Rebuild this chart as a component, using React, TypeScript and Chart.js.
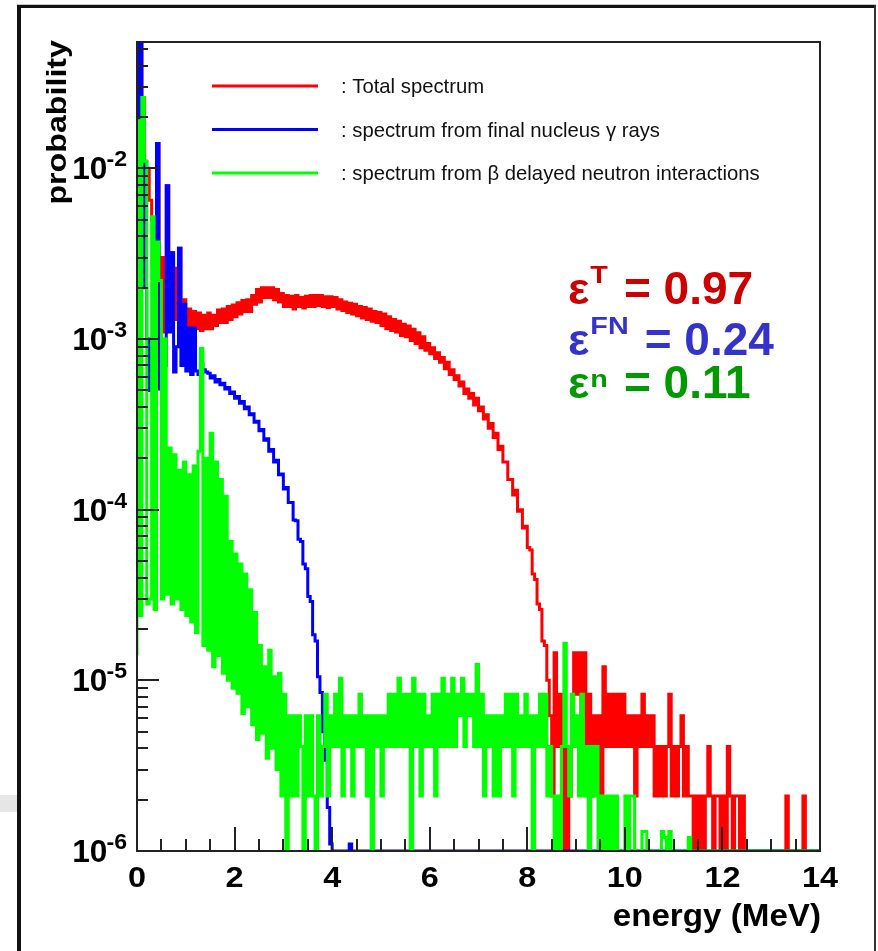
import React, { useEffect, useRef } from "react";
import { Chart, registerables } from "chart.js";

Chart.register(...registerables);

// ---------------- data ----------------
const BIN_WIDTH = 0.05; // MeV per histogram bin
const X_MIN = 0;
const X_MAX = 14;
const Y_MIN = 1e-6;
const Y_MAX = 0.055;

// Total spectrum (red), one value per 0.05 MeV bin starting at 0 MeV
const totalSpectrum: number[] = [
  3.8e-5, 1.9e-2, 8e-2, 2.6e-2, 1.1e-2, 1.0e-2, 6.5e-3, 5.0e-3, 3.9e-3, 1.4e-2,
  3.0e-3, 1.1e-3, 3.0e-3, 7.9e-3, 1.2e-3, 3.2e-3, 1.3e-3, 2.6e-3, 3.4e-3, 1.3e-3,
  1.7e-3, 1.2e-3, 1.5e-3, 1.15e-3, 1.45e-3, 1.15e-3, 1.42e-3, 1.12e-3, 1.38e-3, 1.15e-3,
  1.42e-3, 1.15e-3, 1.38e-3, 1.2e-3, 1.48e-3, 1.25e-3, 1.5e-3, 1.25e-3, 1.55e-3, 1.3e-3,
  1.58e-3, 1.35e-3, 1.63e-3, 1.4e-3, 1.68e-3, 1.45e-3, 1.7e-3, 1.45e-3, 1.8e-3, 1.6e-3,
  1.95e-3, 1.65e-3, 2.0e-3, 1.75e-3, 2.0e-3, 1.75e-3, 2.0e-3, 1.7e-3, 1.95e-3, 1.65e-3,
  1.85e-3, 1.55e-3, 1.8e-3, 1.55e-3, 1.78e-3, 1.5e-3, 1.8e-3, 1.55e-3, 1.75e-3, 1.52e-3,
  1.78e-3, 1.55e-3, 1.8e-3, 1.55e-3, 1.8e-3, 1.57e-3, 1.8e-3, 1.55e-3, 1.77e-3, 1.53e-3,
  1.77e-3, 1.55e-3, 1.75e-3, 1.5e-3, 1.7e-3, 1.47e-3, 1.65e-3, 1.43e-3, 1.62e-3, 1.4e-3,
  1.6e-3, 1.37e-3, 1.55e-3, 1.33e-3, 1.53e-3, 1.3e-3, 1.5e-3, 1.27e-3, 1.45e-3, 1.25e-3,
  1.43e-3, 1.2e-3, 1.4e-3, 1.15e-3, 1.35e-3, 1.12e-3, 1.3e-3, 1.1e-3, 1.27e-3, 1.05e-3,
  1.22e-3, 1.03e-3, 1.19e-3, 9.8e-4, 1.14e-3, 9.4e-4, 1.09e-3, 8.9e-4, 1.03e-3, 8.6e-4,
  9.4e-4, 8.2e-4, 8.9e-4, 7.7e-4, 8.3e-4, 7.3e-4, 7.8e-4, 6.7e-4, 7.3e-4, 6.2e-4,
  6.6e-4, 5.8e-4, 6.1e-4, 5.3e-4, 5.6e-4, 4.8e-4, 5.1e-4, 4.5e-4, 4.8e-4, 4.1e-4,
  4.5e-4, 3.8e-4, 4.0e-4, 3.4e-4, 3.6e-4, 3.0e-4, 3.2e-4, 2.65e-4, 2.8e-4, 2.25e-4,
  2.35e-4, 1.9e-4, 1.9e-4, 1.5e-4, 1.5e-4, 1.22e-4, 1.3e-4, 9.8e-5, 1.0e-4, 7.8e-5,
  8.0e-5, 6.0e-5, 5.8e-5, 4.2e-5, 3.9e-5, 2.8e-5, 2.6e-5, 1.7e-5, 1.6e-5, 1.0e-5,
  6.2e-6, 2.1e-6, 1.45e-5, 4.1e-6, 8.3e-6, 0, 4.1e-6, 0, 2.1e-6, 4.1e-6,
  1.45e-5, 8.3e-6, 1.45e-5, 6.2e-6, 1.45e-5, 4.1e-6, 8.3e-6, 2.1e-6, 6.2e-6, 4.1e-6,
  6.2e-6, 2.1e-6, 1.2e-5, 4.1e-6, 8.3e-6, 4.1e-6, 8.3e-6, 4.1e-6, 8.3e-6, 4.1e-6,
  8.3e-6, 4.1e-6, 6.2e-6, 4.1e-6, 6.2e-6, 2.1e-6, 6.2e-6, 4.1e-6, 8.3e-6, 4.1e-6,
  6.2e-6, 4.1e-6, 6.2e-6, 2.1e-6, 4.1e-6, 2.1e-6, 4.1e-6, 2.1e-6, 4.1e-6, 8.3e-6,
  2.1e-6, 4.1e-6, 2.1e-6, 4.1e-6, 6.2e-6, 2.1e-6, 4.1e-6, 2.1e-6, 2.1e-6, 0,
  2.1e-6, 0, 2.1e-6, 0, 2.1e-6, 4.1e-6, 2.1e-6, 0, 2.1e-6, 2.1e-6,
  0, 2.1e-6, 0, 4.1e-6, 2.1e-6, 0, 2.1e-6, 2.1e-6, 0, 2.1e-6,
  0, 0, 0, 0, 0, 0, 0, 0, 0, 0,
  0, 0, 0, 0, 0, 0, 0, 2.1e-6, 0, 0,
  0, 0, 0, 0, 2.1e-6, 0, 0, 0, 0, 0,
];

// Spectrum from final nucleus gamma rays (blue)
const finalNucleusGamma: number[] = [
  4.4e-5, 1.5e-2, 8e-2, 1.2e-2, 2.0e-3, 1.0e-3, 5.0e-4, 9.0e-4, 6.0e-4, 1.4e-2,
  5.1e-4, 6.2e-4, 7.0e-4, 7.9e-3, 1.1e-3, 3.2e-3, 6.4e-4, 9.0e-4, 3.4e-3, 7.0e-4,
  1.6e-3, 6.5e-4, 1.16e-3, 6.2e-4, 1.16e-3, 6.5e-4, 6.2e-4, 7.2e-4, 6.6e-4, 6.4e-4,
  6.3e-4, 5.9e-4, 6.1e-4, 5.6e-4, 5.8e-4, 5.4e-4, 5.5e-4, 5.1e-4, 5.2e-4, 4.8e-4,
  4.9e-4, 4.5e-4, 4.6e-4, 4.2e-4, 4.3e-4, 3.9e-4, 4.0e-4, 3.6e-4, 3.65e-4, 3.25e-4,
  3.3e-4, 2.9e-4, 2.95e-4, 2.55e-4, 2.6e-4, 2.2e-4, 2.25e-4, 1.9e-4, 1.95e-4, 1.6e-4,
  1.62e-4, 1.32e-4, 1.35e-4, 1.1e-4, 1.1e-4, 8.7e-5, 8.6e-5, 6.7e-5, 6.5e-5, 4.8e-5,
  4.5e-5, 3.1e-5, 2.9e-5, 1.85e-5, 1.7e-5, 1.05e-5, 8.5e-6, 5.0e-6, 3.4e-6, 1.8e-6,
  1.1e-6, 0, 0, 0, 0, 0, 0, 0, 1.1e-6, 0,
  0, 0, 0, 0, 0, 0, 0, 0, 0, 0,
  0, 0, 0, 0, 0, 0, 0, 0, 0, 0,
  0, 0, 0, 0, 0, 0, 0, 0, 0, 0,
  0, 0, 0, 0, 0, 0, 0, 0, 0, 0,
  0, 0, 0, 0, 0, 0, 0, 0, 0, 0,
  0, 0, 0, 0, 0, 0, 0, 0, 0, 0,
  0, 0, 0, 0, 0, 0, 0, 0, 0, 0,
  0, 0, 0, 0, 0, 0, 0, 0, 0, 0,
  0, 0, 0, 0, 0, 0, 0, 0, 0, 0,
  0, 0, 0, 0, 0, 0, 0, 0, 0, 0,
  0, 0, 0, 0, 0, 0, 0, 0, 0, 0,
  0, 0, 0, 0, 0, 0, 0, 0, 0, 0,
  0, 0, 0, 0, 0, 0, 0, 0, 0, 0,
  0, 0, 0, 0, 0, 0, 0, 0, 0, 0,
  0, 0, 0, 0, 0, 0, 0, 0, 0, 0,
  0, 0, 0, 0, 0, 0, 0, 0, 0, 0,
  0, 0, 0, 0, 0, 0, 0, 0, 0, 0,
  0, 0, 0, 0, 0, 0, 0, 0, 0, 0,
  0, 0, 0, 0, 0, 0, 0, 0, 0, 0,
];

// Spectrum from beta-delayed neutron interactions (green)
const betaDelayedNeutron: number[] = [
  1.4e-5, 1.9e-2, 2.4e-5, 2.6e-2, 1.1e-2, 2.8e-5, 3.0e-5, 5.2e-3, 2.6e-5, 3.7e-3,
  2.2e-3, 3.0e-5, 1.0e-3, 3.2e-5, 2.3e-4, 2.8e-5, 2.1e-4, 3.0e-5, 1.7e-4, 2.6e-5,
  1.9e-4, 2.4e-5, 1.6e-4, 2.2e-5, 1.8e-4, 1.9e-5, 2.2e-4, 8.8e-4, 1.6e-5, 2.0e-4,
  1.5e-5, 2.8e-4, 1.2e-5, 1.9e-4, 1.4e-5, 1.5e-4, 1.1e-5, 1.2e-4, 1.0e-5, 6.5e-5,
  9.0e-6, 5.5e-5, 8.4e-6, 4.8e-5, 6.4e-6, 4.2e-5, 7.0e-6, 3.4e-5, 5.5e-6, 2.5e-5,
  4.5e-6, 1.6e-5, 4.9e-6, 1.2e-5, 3.5e-6, 1.5e-5, 4.0e-6, 1.05e-5, 3.0e-6, 1.1e-5,
  2.1e-6, 8.3e-6, 0, 6.2e-6, 2.1e-6, 6.2e-6, 2.1e-6, 6.2e-6, 4.1e-6, 0,
  6.2e-6, 2.1e-6, 6.2e-6, 2.1e-6, 0, 6.2e-6, 2.1e-6, 4.1e-6, 8.3e-6, 2.1e-6,
  6.2e-6, 4.1e-6, 8.3e-6, 4.1e-6, 1.03e-5, 2.1e-6, 6.2e-6, 4.1e-6, 6.2e-6, 2.1e-6,
  6.2e-6, 4.1e-6, 8.3e-6, 4.1e-6, 6.2e-6, 2.1e-6, 6.2e-6, 0, 6.2e-6, 4.1e-6,
  6.2e-6, 2.1e-6, 6.2e-6, 4.1e-6, 8.3e-6, 4.1e-6, 8.3e-6, 4.1e-6, 1.03e-5, 4.1e-6,
  8.3e-6, 4.1e-6, 8.3e-6, 0, 1.03e-5, 4.1e-6, 8.3e-6, 2.1e-6, 8.3e-6, 4.1e-6,
  6.2e-6, 4.1e-6, 8.3e-6, 2.1e-6, 8.3e-6, 4.1e-6, 1.03e-5, 4.1e-6, 8.3e-6, 4.1e-6,
  1.03e-5, 4.1e-6, 8.3e-6, 6.2e-6, 1.03e-5, 4.1e-6, 8.3e-6, 6.2e-6, 8.3e-6, 4.1e-6,
  1.24e-5, 4.1e-6, 8.3e-6, 2.1e-6, 6.2e-6, 4.1e-6, 6.2e-6, 2.1e-6, 6.2e-6, 2.1e-6,
  6.2e-6, 4.1e-6, 8.3e-6, 4.1e-6, 8.3e-6, 2.1e-6, 8.3e-6, 4.1e-6, 6.2e-6, 4.1e-6,
  8.3e-6, 4.1e-6, 6.2e-6, 0, 6.2e-6, 4.1e-6, 8.3e-6, 4.1e-6, 8.3e-6, 2.1e-6,
  4.1e-6, 2.1e-6, 0, 2.1e-6, 0, 4.1e-6, 1.65e-5, 4.1e-6, 2.1e-6, 8.3e-6,
  4.1e-6, 6.2e-6, 2.1e-6, 8.3e-6, 2.1e-6, 4.1e-6, 0, 4.1e-6, 2.1e-6, 4.1e-6,
  0, 2.1e-6, 0, 2.1e-6, 0, 2.1e-6, 0, 2.1e-6, 0, 0,
  0, 2.1e-6, 0, 2.1e-6, 2.1e-6, 0, 0, 0, 1.3e-6, 1.3e-6,
  0, 0, 0, 0, 0, 0, 1.3e-6, 1.2e-6, 0, 1.3e-6,
  0, 0, 0, 0, 0, 0, 0, 1.2e-6, 0, 0,
  0, 0, 0, 0, 0, 0, 0, 0, 0, 0,
  0, 0, 0, 0, 0, 0, 0, 0, 0, 0,
  0, 0, 0, 0, 0, 0, 0, 0, 0, 0,
  0, 0, 0, 0, 0, 0, 0, 0, 0, 0,
  0, 0, 0, 0, 0, 0, 0, 0, 0, 0,
];

const xMajorTickStep = 2;
const xMinorTickStep = 0.5;
const yDecadeExponents = [-6, -5, -4, -3, -2];
const xAxisTitle = "energy (MeV)";
const yAxisTitle = "probability";
const legendLabels = [
  ": Total spectrum",
  ": spectrum from final nucleus \u03b3 rays",
  ": spectrum from \u03b2 delayed neutron interactions",
];
const seriesColors = ["#ff0000", "#0000ff", "#00ff00"];
const efficiencySuperscripts = ["T", "FN", "n"];
const efficiencyValues = ["0.97", "0.24", "0.11"];
const efficiencyColors = ["#cc0000", "#3333cc", "#009900"];

// ---------------- helpers ----------------
function toHistogramPoints(values: number[]) {
  const pts = values.map((v, i) => ({ x: X_MIN + i * BIN_WIDTH, y: v > 0 ? v : Y_MIN }));
  pts.push({ x: X_MAX, y: pts[pts.length - 1].y });
  return pts;
}

function drawText(
  ctx: CanvasRenderingContext2D,
  text: string,
  x: number,
  y: number,
  font: string,
  color: string,
  align: "left" | "right" | "center",
  sx = 1
) {
  ctx.save();
  ctx.font = font;
  ctx.fillStyle = color;
  ctx.textBaseline = "alphabetic";
  ctx.textAlign = "left";
  const w = ctx.measureText(text).width * sx;
  let left = x;
  if (align === "right") left = x - w;
  else if (align === "center") left = x - w / 2;
  ctx.translate(left, y);
  ctx.scale(sx, 1);
  ctx.fillText(text, 0, 0);
  ctx.restore();
  return w;
}

function measure(ctx: CanvasRenderingContext2D, text: string, font: string, sx = 1) {
  ctx.save();
  ctx.font = font;
  const w = ctx.measureText(text).width * sx;
  ctx.restore();
  return w;
}

const FONT = '"Liberation Sans", Arial, Helvetica, sans-serif';

const rootStylePlugin = {
  id: "rootStyle",
  beforeDraw(chart: any) {
    const ctx: CanvasRenderingContext2D = chart.ctx;
    ctx.save();
    ctx.fillStyle = "#ffffff";
    ctx.fillRect(0, 0, chart.width, chart.height);
    ctx.fillStyle = "#e6e6e6";
    ctx.fillRect(0, 795, 17, 17);
    ctx.fillStyle = "#c8c8c8";
    ctx.fillRect(17, 4, 859, 1);
    ctx.fillStyle = "#111111";
    ctx.fillRect(17, 5, 859, 3);
    ctx.fillRect(17, 5, 4, chart.height - 5);
    ctx.fillStyle = "#333333";
    ctx.fillRect(874, 5, 2, chart.height - 5);
    ctx.restore();
  },
  afterDatasetsDraw(chart: any) {
    const ctx: CanvasRenderingContext2D = chart.ctx;
    const area = chart.chartArea;
    const xs = chart.scales.x;
    const ys = chart.scales.y;
    ctx.save();

    // frame
    ctx.strokeStyle = "#222222";
    ctx.lineWidth = 2;
    ctx.strokeRect(area.left, area.top, area.right - area.left, area.bottom - area.top);

    // ticks drawn inward, ROOT style
    ctx.beginPath();
    const nMinor = Math.round((X_MAX - X_MIN) / xMinorTickStep);
    const perMajor = Math.round(xMajorTickStep / xMinorTickStep);
    for (let i = 0; i <= nMinor; i++) {
      const v = X_MIN + i * xMinorTickStep;
      const px = Math.round(xs.getPixelForValue(v));
      const len = i % perMajor === 0 ? 24 : 12;
      ctx.moveTo(px, area.bottom);
      ctx.lineTo(px, area.bottom - len);
    }
    for (const d of yDecadeExponents) {
      for (let m = 1; m <= 9; m++) {
        const val = m * Math.pow(10, d);
        if (val > Y_MAX * 1.0001) break;
        const py = Math.round(ys.getPixelForValue(val));
        const len = m === 1 ? 22 : 11;
        ctx.moveTo(area.left, py);
        ctx.lineTo(area.left + len, py);
      }
    }
    ctx.stroke();

    // x tick labels
    for (let v = X_MIN; v <= X_MAX; v += xMajorTickStep) {
      const px = xs.getPixelForValue(v);
      drawText(ctx, String(v), px, 887, `bold 30px ${FONT}`, "#000", "center", 1.08);
    }
    // y tick labels 10^d
    for (const d of yDecadeExponents) {
      const py = ys.getPixelForValue(Math.pow(10, d));
      const supFont = `bold 22px ${FONT}`;
      const supW = measure(ctx, String(d), supFont, 1.05);
      const right = 127;
      drawText(ctx, String(d), right, py - 2, supFont, "#000", "right", 1.05);
      drawText(ctx, "10", right - supW + 1, py + 11, `bold 31px ${FONT}`, "#000", "right", 1.02);
    }

    // axis titles
    drawText(ctx, xAxisTitle, area.right + 1, 926, `bold 31px ${FONT}`, "#000", "right", 1.07);
    ctx.save();
    ctx.translate(66, 40);
    ctx.rotate(-Math.PI / 2);
    drawText(ctx, yAxisTitle, 0, 0, `bold 28px ${FONT}`, "#000", "right", 1.15);
    ctx.restore();

    // legend
    const legendY = [86, 129.5, 173];
    legendLabels.forEach((label, i) => {
      ctx.save();
      ctx.strokeStyle = seriesColors[i];
      ctx.lineWidth = 3;
      ctx.beginPath();
      ctx.moveTo(212, legendY[i]);
      ctx.lineTo(318, legendY[i]);
      ctx.stroke();
      ctx.restore();
      drawText(ctx, label, 341, legendY[i] + 7, `20.3px ${FONT}`, "#111", "left", 1);
    });

    // efficiency annotations
    const baselines = [304, 355, 398];
    const supBase = [283, 334, 387];
    efficiencyValues.forEach((val, i) => {
      const c = efficiencyColors[i];
      const wE = drawText(ctx, "\u03b5", 568, baselines[i], `bold 45px ${FONT}`, c, "left", 1);
      const sx0 = 568 + wE + 1;
      const wS = drawText(ctx, efficiencySuperscripts[i], sx0, supBase[i], `bold 23px ${FONT}`, c, "left", 1.25);
      drawText(ctx, "= " + val, sx0 + wS + 16, baselines[i], `bold 46px ${FONT}`, c, "left", 1);
    });

    ctx.restore();
  },
};

export default function App() {
  const canvasRef = useRef<HTMLCanvasElement | null>(null);

  useEffect(() => {
    const canvas = canvasRef.current;
    if (!canvas) return;
    const mk = (label: string, values: number[], color: string, order: number) => ({
      label,
      data: toHistogramPoints(values),
      borderColor: color,
      backgroundColor: color,
      borderWidth: 3,
      stepped: "after" as const,
      pointRadius: 0,
      pointHoverRadius: 0,
      fill: false,
      tension: 0,
      order,
    });
    const chart = new Chart(canvas, {
      type: "line",
      data: {
        datasets: [
          mk(legendLabels[2], betaDelayedNeutron, seriesColors[2], 1),
          mk(legendLabels[1], finalNucleusGamma, seriesColors[1], 2),
          mk(legendLabels[0], totalSpectrum, seriesColors[0], 3),
        ],
      },
      options: {
        animation: false,
        responsive: false,
        maintainAspectRatio: false,
        devicePixelRatio: 1,
        events: [],
        layout: { padding: { left: 137, top: 42, right: 58, bottom: 100 } },
        scales: {
          x: { type: "linear", min: X_MIN, max: X_MAX, display: false },
          y: { type: "logarithmic", min: Y_MIN, max: Y_MAX, display: false },
        },
        plugins: { legend: { display: false }, tooltip: { enabled: false } },
      },
      plugins: [rootStylePlugin],
    });
    return () => chart.destroy();
  }, []);

  return (
    <div style={{ position: "absolute", left: 0, top: 0, width: 878, height: 951 }}>
      <canvas ref={canvasRef} width={878} height={951} style={{ display: "block", width: 878, height: 951 }} />
    </div>
  );
}
